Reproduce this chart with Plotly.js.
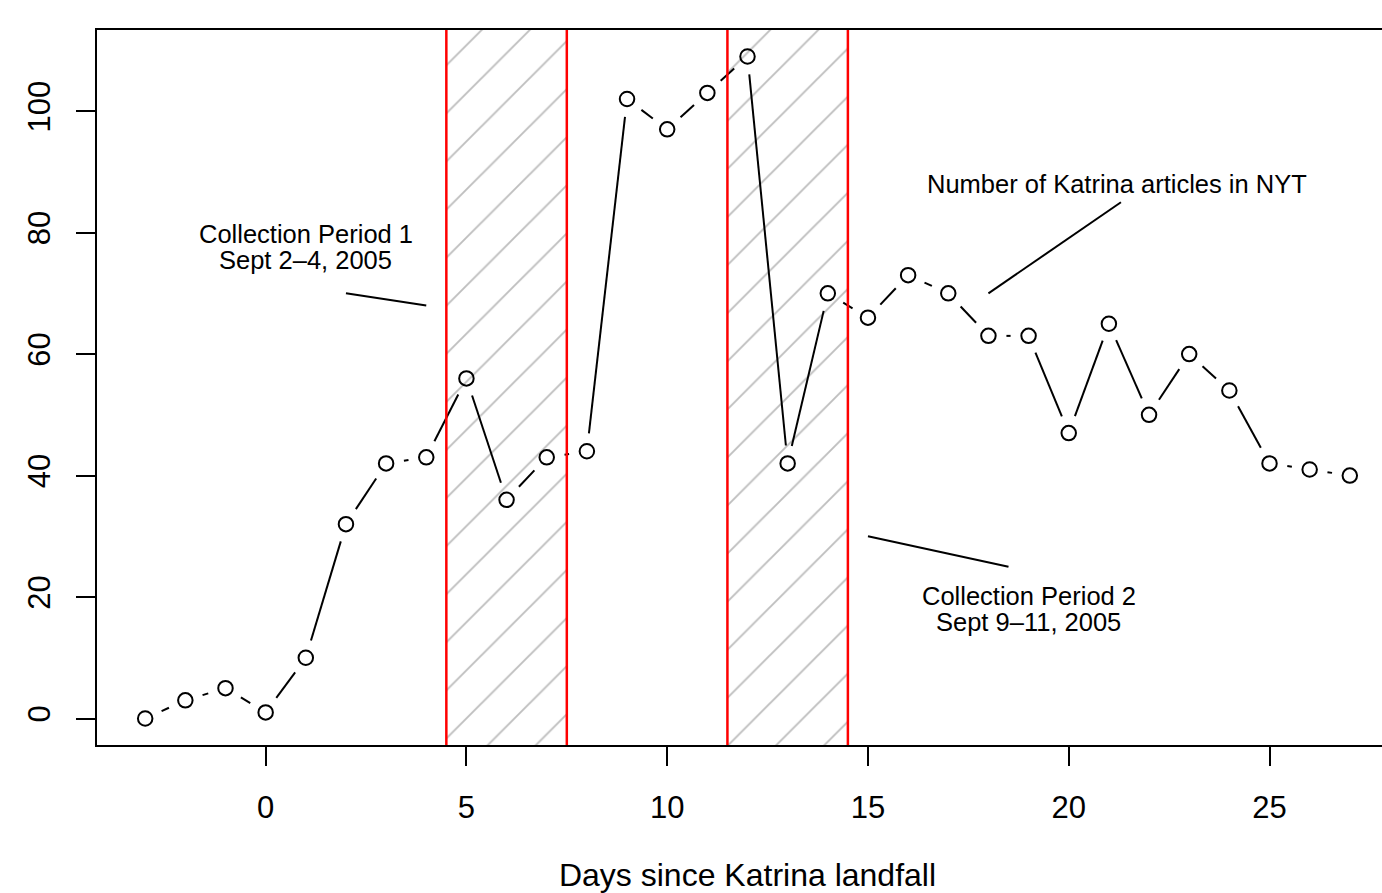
<!DOCTYPE html>
<html><head><meta charset="utf-8">
<script src="https://cdn.plot.ly/plotly-3.0.1.min.js"></script>
<style>html,body{margin:0;padding:0;overflow:hidden;background:#fff}</style>
</head><body><div id="chart"></div>
<script>
// ---- data ----
const days = [-3,-2,-1,0,1,2,3,4,5,6,7,8,9,10,11,12,13,14,15,16,17,18,19,20,21,22,23,24,25,26,27];
const articles = [0,3,5,1,10,32,42,43,56,36,43,44,102,97,103,109,42,70,66,73,70,63,63,47,65,50,60,54,42,41,40];
const periodStart = [4.5, 11.5];
const periodEnd = [7.5, 14.5];
const xTicks = [0,5,10,15,20,25];
const yTicks = [0,20,40,60,80,100];
const noteLines = [["Collection Period 1", "Sept 2\u20134, 2005"], ["Number of Katrina articles in NYT"], ["Collection Period 2", "Sept 9\u201311, 2005"]];
const noteX = [1, 21.2, 19];
const noteY = [77.7, 88, 18];
const leaderX0 = [2, 18, 15];
const leaderY0 = [70, 70, 30];
const leaderX1 = [4, 21.3, 18.5];
const leaderY1 = [68, 85, 25];

// ---- geometry ----
const W = 1420, H = 893;
const M = {l: 97, r: 22, t: 30, b: 148};
const xRange = [-4.2, 28.2];
const yRange = [-4.36, 113.36];
const font = "Liberation Sans, Arial, Helvetica, sans-serif";
const lineGap = 26;

// R type="b": line segments with gaps around points
const pxX = (W - M.l - M.r) / (xRange[1] - xRange[0]);
const pxY = (H - M.t - M.b) / (yRange[1] - yRange[0]);
const gap = 18;
const lx = [], ly = [];
for (let i = 0; i < days.length - 1; i++) {
  const x0 = days[i], y0 = articles[i], x1 = days[i+1], y1 = articles[i+1];
  const L = Math.hypot((x1 - x0) * pxX, (y1 - y0) * pxY);
  if (L > 2 * gap) {
    const t = gap / L;
    lx.push(x0 + (x1 - x0) * t, x1 - (x1 - x0) * t, null);
    ly.push(y0 + (y1 - y0) * t, y1 - (y1 - y0) * t, null);
  }
}

const traces = [
  {
    type: 'bar',
    x: periodStart.map((s, i) => (s + periodEnd[i]) / 2),
    width: periodStart.map((s, i) => periodEnd[i] - s),
    base: periodStart.map(() => yRange[0]),
    y: periodStart.map(() => yRange[1] - yRange[0]),
    marker: {color: 'white', line: {width: 0},
      pattern: {shape: '/', size: 34, solidity: 0.055, fgcolor: '#bebebe', fgopacity: 1, bgcolor: 'white', fillmode: 'replace'}},
    hoverinfo: 'skip', showlegend: false
  },
  {
    type: 'scatter', mode: 'lines', x: lx, y: ly,
    line: {color: 'black', width: 2}, hoverinfo: 'skip', showlegend: false
  },
  {
    type: 'scatter', mode: 'markers', x: days, y: articles,
    marker: {symbol: 'circle-open', size: 14.5, color: 'black', line: {width: 2, color: 'black'}},
    showlegend: false
  }
];

const shapes = [];
periodStart.concat(periodEnd).forEach(v => {
  shapes.push({type: 'line', xref: 'x', yref: 'paper', x0: v, x1: v, y0: 0, y1: 1,
    line: {color: '#ff0000', width: 2.5}});
});
leaderX0.forEach((v, i) => {
  shapes.push({type: 'line', xref: 'x', yref: 'y', x0: v, y0: leaderY0[i], x1: leaderX1[i], y1: leaderY1[i],
    line: {color: 'black', width: 2}});
});

const annotations = [];
noteLines.forEach((lines, i) => {
  lines.forEach((t, j) => {
    annotations.push({
      text: t, x: noteX[i], y: noteY[i], xref: 'x', yref: 'y', showarrow: false,
      xanchor: 'center', yanchor: 'middle',
      yshift: ((lines.length - 1) / 2 - j) * lineGap,
      font: {family: font, size: 25.5, color: 'black'}
    });
  });
});

const axisCommon = {
  ticks: 'outside', ticklen: 19, tickwidth: 2, tickcolor: 'black',
  showline: true, linewidth: 2, linecolor: 'black', mirror: true,
  showgrid: false, zeroline: false, tickfont: {family: font, size: 31, color: 'black'}
};

const layout = {
  width: W, height: H, margin: M,
  paper_bgcolor: 'white', plot_bgcolor: 'white',
  font: {family: font, color: 'black'},
  showlegend: false, barmode: 'overlay',
  xaxis: Object.assign({}, axisCommon, {range: xRange, tickvals: xTicks, ticktext: xTicks.map(String),
    ticklabelstandoff: 15,
    title: {text: 'Days since Katrina landfall', font: {family: font, size: 32, color: 'black'}, standoff: 41}}),
  yaxis: Object.assign({}, axisCommon, {range: yRange, tickvals: yTicks, ticktext: yTicks.map(String),
    tickangle: -90, ticklabelstandoff: 14}),
  shapes: shapes, annotations: annotations
};

Plotly.newPlot('chart', traces, layout, {displayModeBar: false, staticPlot: true});
</script>
</body></html>
